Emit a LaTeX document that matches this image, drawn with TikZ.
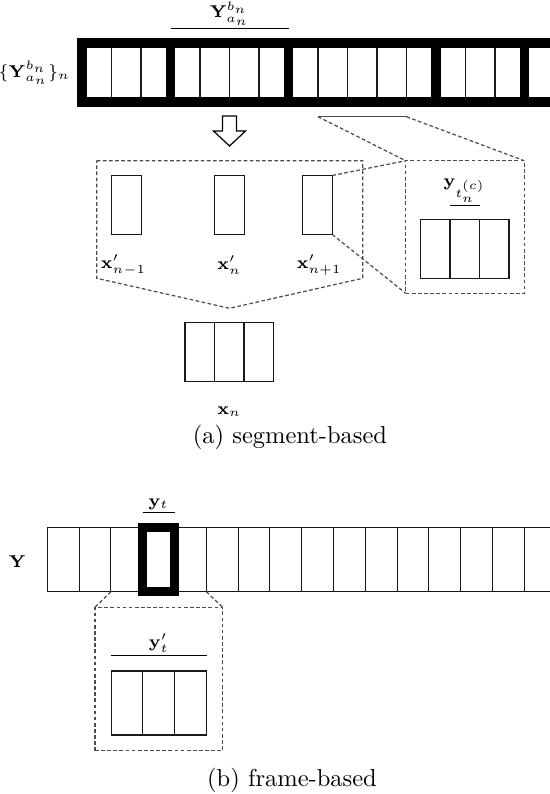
\documentclass[tikz,border=0pt]{standalone}
\usetikzlibrary{calc}
\definecolor{LinkClr}{rgb}{0.3,0.3,0.3}
\definecolor{CellClr}{rgb}{0.1,0.1,0.1}

\tikzset{
  cell/.style={draw=CellClr,line width=0.45pt,inner sep=0pt,outer sep=0pt,
    minimum width=12.04pt,minimum height=24.08pt},
  slot/.style={cell,minimum width=12.98pt,minimum height=26.13pt},
  segframe/.style={line width=3.9pt},
  zoomline/.style={draw=LinkClr,line width=0.5pt,dash pattern=on 1.5pt off 1pt},
  lbl/.style={font=\scriptsize,inner sep=1pt}
}

\begin{document}
\begin{tikzpicture}[x=0.4082pt,y=-0.4082pt]
\useasboundingbox (0,0) rectangle (550,794);
\clip (0,0) rectangle (550,794);

% (a) segment-based
\foreach \k in {0,...,17}
  \node[cell] (t\k) at ({96.75+29.5*\k},72.75) {};
\foreach \a/\b in {0/2,3/6,7/11,12/14,15/17}
  \draw[segframe] (t\a.north west) rectangle (t\b.south east);

\draw ($(t3.north west)+(0,-15)$) -- ($(t6.north east)+(0,-15)$)
  node[midway,above,lbl] {$\mathbf{Y}_{a_n}^{b_n}$};
\node[lbl,anchor=east] at ($(t0.west)+(-9,0)$) {$\{\mathbf{Y}_{a_n}^{b_n}\}_n$};

\draw[line width=0.5pt] (222.5,116) -- (236.5,116) -- (236.5,131) -- (245.5,131)
  -- (229.5,146) -- (213.5,131) -- (222.5,131) -- cycle;

\draw[LinkClr] ($(t8.south west)+(0,14.5)$) coordinate (sl)
  -- ($(t10.south east)+(0,14.5)$) coordinate (sr);

\node[zoomline,minimum width=48.4pt,minimum height=54.1pt,inner sep=0pt,outer sep=0pt]
  (zoom) at (465,227) {};
\foreach \k in {0,1,2}
  \node[cell] (z\k) at ({435.25+29.5*\k},248.8) {};
\draw ($(z1.north west)+(0,-14.3)$) -- ($(z1.north east)+(0,-14.3)$)
  node[midway,above,lbl] {$\mathbf{y}_{t_n^{(c)}}$};

\draw[zoomline] (sl) -- (zoom.north west);
\draw[zoomline] (sr) -- (zoom.north east);

\draw[zoomline] (96.7,160.7) -- (362.7,160.7) -- (362.7,278.3) -- (229.5,308.3)
  -- (96.7,278.3) -- cycle;

\foreach \n/\x/\lx/\t in {1/126.35/123.5/{n-1},2/229.3/229.3/n,3/317.5/319.3/{n+1}} {
  \node[cell] (xp\n) at (\x,205) {};
  \node[lbl] at (\lx,265) {$\mathbf{x}'_{\t}$};
}
\draw[zoomline] (xp3.north east) -- (zoom.north west);
\draw[zoomline] (xp3.south east) -- (zoom.south west);

\foreach \k in {0,1,2}
  \node[cell] (x\k) at ({199.75+29.5*\k},352.2) {};
\node[lbl] at (229.25,411.7) {$\mathbf{x}_n$};

\node at (290,437) {(a) segment-based};

% (b) frame-based
\foreach \k in {0,...,16}
  \node[slot] (b\k) at ({63.2+31.8*\k},559.7) {};
\draw[segframe] (b3.north west) rectangle (b3.south east);
\draw ($(b3.north west)+(0,-15.4)$) -- ($(b3.north east)+(0,-15.4)$)
  node[midway,above,lbl] {$\mathbf{y}_t$};
\node[lbl] at (17.5,561.7) {$\mathbf{Y}$};

\node[zoomline,minimum width=52.13pt,minimum height=58.54pt,inner sep=0pt,outer sep=0pt]
  (ybox) at (158.85,679) {};
\draw[zoomline] (b2.south west) -- (ybox.north west);
\draw[zoomline] (b4.south east) -- (ybox.north east);

\foreach \k in {0,1,2}
  \node[slot] (y\k) at ({127+31.8*\k},703) {};
\draw ($(y0.north west)+(0,-15.7)$) -- ($(y2.north east)+(0,-15.7)$)
  node[midway,above,lbl] {$\mathbf{y}'_t$};

\node at (292,780) {(b) frame-based};

\end{tikzpicture}
\end{document}
